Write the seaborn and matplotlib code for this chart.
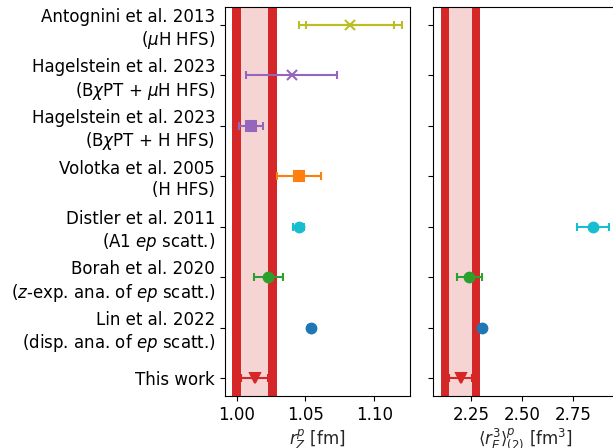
import matplotlib
matplotlib.use("Agg")
import matplotlib.pyplot as plt
import seaborn as sns
import numpy as np
from matplotlib.ticker import FormatStrFormatter

sns.set_style("ticks")
plt.rcParams['font.family'] = ['DejaVu Sans']
plt.rcParams['axes.edgecolor'] = 'black'
plt.rcParams['axes.linewidth'] = 0.8
plt.rcParams['xtick.color'] = 'black'
plt.rcParams['ytick.color'] = 'black'
plt.rcParams['font.size'] = 12

labels = [
    "Antognini et al. 2013\n($\\mu$H HFS)",
    "Hagelstein et al. 2023\n(B$\\chi$PT + $\\mu$H HFS)",
    "Hagelstein et al. 2023\n(B$\\chi$PT + H HFS)",
    "Volotka et al. 2005\n(H HFS)",
    "Distler et al. 2011\n(A1 $ep$ scatt.)",
    "Borah et al. 2020\n($z$-exp. ana. of $ep$ scatt.)",
    "Lin et al. 2022\n(disp. ana. of $ep$ scatt.)",
    "This work",
]
colors = ["tab:olive", "tab:purple", "tab:purple", "tab:orange",
          "tab:cyan", "tab:green", "tab:blue", "tab:red"]
markers = ["x", "x", "s", "s", "o", "o", "o", "v"]

# Zemach radius r_Z [fm]
rz_val = [1.0825, 1.040, 1.0102, 1.0451, 1.045, 1.0228, 1.0539, 1.013]
rz_err = [0.032, 0.033, 0.0088, 0.016, 0.004, 0.0105, 0.002, 0.0096]
rz_err_tot = 0.0375   # Antognini total uncertainty
rz_band_tot = 0.0162  # this work total
rz_band_stat = 0.0096

# Third Zemach moment <r_E^3>_(2) [fm^3]
r3_rows = [4, 5, 6, 7]
r3_val = [2.849, 2.2416, 2.306, 2.198]
r3_err = [0.08, 0.061, 0.01, 0.057]
r3_band_tot = 0.097
r3_band_stat = 0.057

pink = "#f7d4d4"
y = np.arange(len(labels))

fig = plt.figure(figsize=(6.13, 4.48), dpi=100)
ax1 = fig.add_axes([0.367, 0.116, 0.302, 0.868])
ax2 = fig.add_axes([0.706, 0.116, 0.302, 0.868], sharey=ax1)

def band(ax, c, tot, stat):
    ax.axvspan(c - tot, c + tot, color="tab:red", lw=0, zorder=0)
    ax.axvspan(c - stat, c + stat, color=pink, lw=0, zorder=0.5)

band(ax1, rz_val[-1], rz_band_tot, rz_band_stat)
band(ax2, r3_val[-1], r3_band_tot, r3_band_stat)

# Antognini total error
ax1.errorbar(rz_val[0], y[0], xerr=rz_err_tot, fmt="none", ecolor=colors[0],
             capsize=3, elinewidth=1.5, capthick=1.5, zorder=2)
for i in range(len(labels)):
    ax1.errorbar(rz_val[i], y[i], xerr=rz_err[i], fmt=markers[i], color=colors[i],
                 ms=7, mew=1.5, capsize=3, elinewidth=1.5, capthick=1.5, zorder=3)

for k, i in enumerate(r3_rows):
    ax2.errorbar(r3_val[k], y[i], xerr=r3_err[k], fmt=markers[i], color=colors[i],
                 ms=7, mew=1.5, capsize=3, elinewidth=1.5, capthick=1.5, zorder=3)

ax1.set_yticks(y)
ax1.set_yticklabels(labels, fontsize=12)
ax1.set_ylim(7.35, -0.35)
ax1.set_xlim(0.9915, 1.126)
ax1.set_xticks([1.00, 1.05, 1.10])
ax1.xaxis.set_major_formatter(FormatStrFormatter('%.2f'))
ax1.set_xlabel(r"$r_Z^p$ [fm]", fontsize=12, labelpad=2)

ax2.set_xlim(2.0615, 2.972)
ax2.set_xticks([2.25, 2.50, 2.75])
ax2.xaxis.set_major_formatter(FormatStrFormatter('%.2f'))
ax2.tick_params(axis='y', labelleft=False)
ax2.set_xlabel(r"$\langle r_E^3\rangle_{(2)}^p$ [fm$^3$]", fontsize=12, labelpad=2)

for ax in (ax1, ax2):
    ax.tick_params(labelsize=12)
    for s in ax.spines.values():
        s.set_visible(True)

fig.savefig("out.png", dpi=100)
